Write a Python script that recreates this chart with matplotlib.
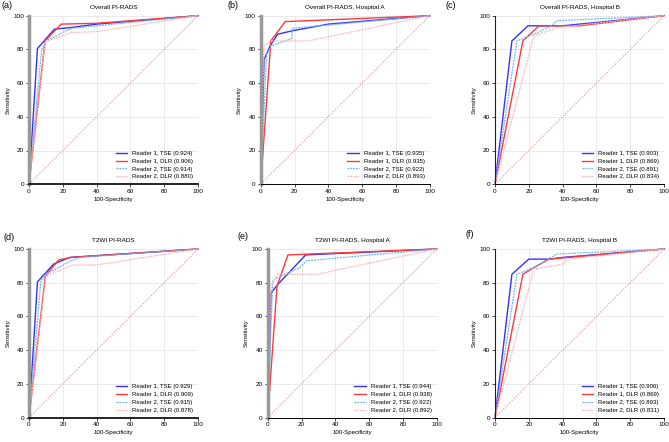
import matplotlib
matplotlib.use("Agg")
import matplotlib.pyplot as plt

plt.rcParams['font.family'] = ['Liberation Sans', 'DejaVu Sans']

# panel titles / labels
labels = ['(a)', '(b)', '(c)', '(d)', '(e)', '(f)']
titles = ['Overall PI-RADS', 'Overall PI-RADS, Hospital A', 'Overall PI-RADS, Hospital B',
          'T2WI PI-RADS', 'T2WI PI-RADS, Hospital A', 'T2WI PI-RADS, Hospital B']
readers = ['Reader 1, TSE', 'Reader 1, DLR', 'Reader 2, TSE', 'Reader 2, DLR']
aucs = [[0.924, 0.906, 0.914, 0.880],
        [0.935, 0.935, 0.922, 0.893],
        [0.903, 0.869, 0.891, 0.834],
        [0.929, 0.909, 0.915, 0.878],
        [0.944, 0.938, 0.922, 0.892],
        [0.906, 0.869, 0.893, 0.831]]

# ROC points: (100-specificity, sensitivity) per panel, per reader
r1_tse_x = [[0, 5, 15, 25, 40, 100], [0, 2, 5.5, 10, 18.5, 40, 100], [0, 10, 19.5, 26, 40, 100],
            [0, 5, 14.5, 24, 100], [0, 2, 6, 22.5, 100], [0, 10, 20, 32, 40, 100]]
r1_tse_y = [[0, 80.5, 92, 93, 95, 100], [0, 74, 82, 89, 91, 95, 100], [0, 85, 94, 94, 94, 100],
            [0, 80.5, 91, 95, 100], [0, 74, 79, 96.5, 100], [0, 85, 94, 94, 95, 100]]
r1_dlr_x = [[0, 9.5, 19, 40, 100], [0, 6, 14.5, 100], [0, 16.5, 26, 50, 100],
            [0, 9.7, 17.5, 25, 100], [0, 5.5, 12, 100], [0, 16.5, 23, 32, 100]]
r1_dlr_y = [[0, 85, 95, 95.5, 100], [0, 85, 96.5, 100], [0, 85, 94, 94, 100],
            [0, 84, 93.5, 95, 100], [0, 78, 96.5, 100], [0, 85, 89, 94, 100]]
r2_tse_x = [[0, 7.5, 10, 25, 100], [0, 3.5, 6, 18.5, 18.5, 100], [0, 13, 23, 33.5, 36.5, 100],
            [0, 7, 10, 25, 30, 100], [0, 3, 6, 19, 23, 100], [0, 13, 23, 36.5, 100]]
r2_tse_y = [[0, 80, 85, 92.5, 100], [0, 77, 82, 86.5, 92.5, 100], [0, 85, 89, 94, 97, 100],
            [0, 80.5, 85, 93, 95, 100], [0, 81, 83, 89, 93, 100], [0, 85, 89, 97, 100]]
r2_dlr_x = [[0, 9.5, 25, 40, 100], [0, 2, 6, 28, 100], [0, 23, 37, 100],
            [0, 10, 26, 40, 100], [0, 2, 6, 29, 100], [0, 23, 40, 43, 100]]
r2_dlr_y = [[0, 84.5, 90, 90.5, 100], [0, 82, 85, 85, 100], [0, 88, 93, 100],
            [0, 84, 90.5, 90.5, 100], [0, 78, 85, 85, 100], [0, 88, 91, 94, 100]]

colors = ['#3333ff', '#ff3838', '#6ab4ff', '#ffb4b4']
styles = ['-', '-', (0, (1.5, 0.8)), (0, (1.5, 0.8))]
widths = [1.0, 1.0, 0.9, 0.9]

fig = plt.figure(figsize=(6.69, 4.42), dpi=100)
lefts = [29, 260.7, 495, 29, 267.7, 495]
tops = [15.7, 15.7, 15.7, 249, 249, 249]
W, H = 169, 168.5
# panel letter positions (pixels, top-left)
lab_x = [1, 227, 445, 3, 237, 465]
lab_y = [1, 1, 1, 233, 232, 230]

for i in range(6):
    ax = fig.add_axes([lefts[i] / 669, 1 - (tops[i] + H) / 442, W / 669, H / 442])
    ax.set_xlim(0, 100)
    ax.set_ylim(0, 100)
    ax.set_xticks([0, 20, 40, 60, 80, 100])
    ax.set_yticks([0, 20, 40, 60, 80, 100])
    ax.grid(True, color='#e6e6e6', linewidth=0.6)
    ax.set_axisbelow(True)
    ax.plot([0, 100], [0, 100], color='#d99a9a', linestyle=(0, (2, 1.5)), linewidth=0.6)
    xs = [r1_tse_x[i], r1_dlr_x[i], r2_tse_x[i], r2_dlr_x[i]]
    ys = [r1_tse_y[i], r1_dlr_y[i], r2_tse_y[i], r2_dlr_y[i]]
    for k in range(4):
        ax.plot(xs[k], ys[k], color=colors[k], linestyle=styles[k], linewidth=widths[k],
                label='%s (%.3f)' % (readers[k], aucs[i][k]), clip_on=False)
    for s in ['top', 'right']:
        ax.spines[s].set_visible(False)
    if i in (2, 5):
        ax.spines['left'].set_linewidth(0.8)
        ax.spines['left'].set_color('#222222')
    else:
        ax.spines['left'].set_linewidth(2.5)
        ax.spines['left'].set_color('#999999')
    ax.spines['bottom'].set_linewidth(1.2 if i in (0, 3) else 0.7)
    ax.tick_params(labelsize=4.6, length=2, width=0.5, pad=1.5)
    ax.set_xlabel('100-Specificity', fontsize=4.4, labelpad=2)
    ax.set_ylabel('Sensitivity', fontsize=4.4, labelpad=2)
    ax.set_title(titles[i], fontsize=4.6, pad=5)
    ax.legend(loc='lower right', frameon=False, fontsize=4.3, handlelength=2.0,
              labelspacing=0.45, borderaxespad=0.4, handletextpad=0.8)
    fig.text(lab_x[i] / 669, 1 - lab_y[i] / 442, labels[i], fontsize=6.5, va='top')

fig.savefig('out.png', dpi=100)
